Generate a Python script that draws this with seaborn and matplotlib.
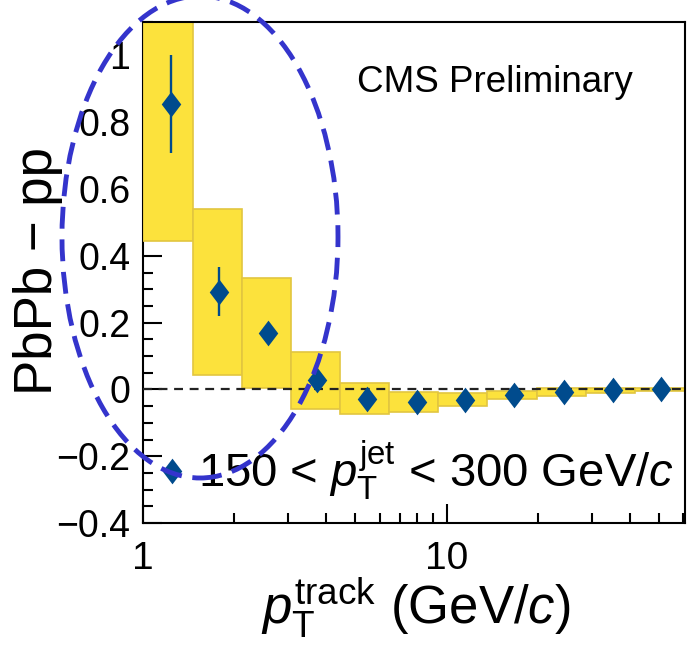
import numpy as np
import pandas as pd
import matplotlib
matplotlib.use("Agg")
import matplotlib.pyplot as plt
import matplotlib.ticker as mticker
from matplotlib.patches import Ellipse
from matplotlib.lines import Line2D
import seaborn as sns

# Track-pT bins (GeV/c) and PbPb - pp differences
bin_edges = [1.0, 1.46, 2.12, 3.08, 4.45, 6.44, 9.33, 13.5, 19.8, 28.6, 41.5, 60.7]
track_pt = [1.236, 1.78, 2.58, 3.75, 5.47, 7.95, 11.46, 16.65, 24.3, 35.2, 50.8]
diff = [0.855, 0.292, 0.170, 0.027, -0.028, -0.037, -0.031, -0.017, -0.008, -0.003, 0.0]
stat_err = [0.147, 0.073, 0.020, 0.015, 0.012, 0.010, 0.008, 0.005, 0.004, 0.003, 0.002]
sys_err = [0.411, 0.248, 0.165, 0.085, 0.047, 0.030, 0.019, 0.013, 0.011, 0.008, 0.004]

ytick_vals = [-0.4, -0.2, 0.0, 0.2, 0.4, 0.6, 0.8, 1.0]
ytick_labels = ["\u22120.4", "\u22120.2", "0", "0.2", "0.4", "0.6", "0.8", "1"]
xtick_vals = [1, 10]
xtick_labels = ["1", "10"]

legend_label = r"150 < $p_{\mathrm{T}}^{\mathrm{jet}}$ < 300 GeV/$c$"

sns.set_theme(style="white")
plt.rcParams["font.family"] = ["Liberation Sans", "DejaVu Sans"]
plt.rcParams["mathtext.fontset"] = "custom"
plt.rcParams["mathtext.rm"] = "Liberation Sans"
plt.rcParams["mathtext.it"] = "Liberation Sans:italic"
plt.rcParams["mathtext.bf"] = "Liberation Sans:bold"
for key in ["text.color", "axes.labelcolor", "xtick.color", "ytick.color"]:
    plt.rcParams[key] = "black"

marker_color = "#004B8D"
box_face = "#FCE23C"
box_edge = "#E2C640"

df = pd.DataFrame({"pt": track_pt, "diff": diff, "stat": stat_err, "sys": sys_err})

fig = plt.figure(figsize=(6.88, 6.46), dpi=100)
fig.patch.set_facecolor("white")
ax = fig.add_axes([143 / 688, 1 - 523 / 646, 542 / 688, 501 / 646])
ax.set_facecolor("white")
ax.set_xscale("log")
ax.set_axisbelow(True)

# systematic uncertainty boxes
edges = np.array(bin_edges)
lo = df["diff"] - df["sys"]
ax.bar(edges[:-1], 2 * df["sys"], width=np.diff(edges), bottom=lo, align="edge",
       color=box_face, edgecolor=box_edge, linewidth=1.2, zorder=3)

ax.axhline(0, color="#222222", lw=1.6, ls=(0, (4, 3)), zorder=3.5)

# statistical error bars
ax.errorbar(df["pt"], df["diff"], yerr=df["stat"], fmt="none",
            ecolor=marker_color, elinewidth=1.7, capsize=0, zorder=4)

diamond = [(0, 1), (0.76, 0), (0, -1), (-0.76, 0), (0, 1)]
sns.scatterplot(data=df, x="pt", y="diff", marker=diamond, s=18.5 ** 2,
                color=marker_color, edgecolor=marker_color, linewidth=0,
                zorder=5, ax=ax, legend=False)

ax.set_xlim(1, 60.7)
ax.set_ylim(-0.4, 1.1)

ax.set_yticks(ytick_vals)
ax.set_yticklabels(ytick_labels)
ax.yaxis.set_minor_locator(mticker.MultipleLocator(0.05))
ax.set_xticks(xtick_vals)
ax.set_xticklabels(xtick_labels)
ax.xaxis.set_minor_locator(mticker.LogLocator(base=10, subs=np.arange(2, 10)))
ax.xaxis.set_minor_formatter(mticker.NullFormatter())

ax.tick_params(axis="both", which="both", bottom=True, left=True,
               top=False, right=False, direction="in", color="black",
               labelcolor="black")
ax.tick_params(axis="both", which="major", length=14, width=1.5)
ax.tick_params(axis="both", which="minor", length=7.5, width=1.5)
ax.tick_params(axis="y", which="major", labelsize=27, pad=9)
ax.tick_params(axis="x", which="major", labelsize=28, pad=13)

for name, sp in ax.spines.items():
    sp.set_visible(True)
    sp.set_color("black")
    sp.set_linewidth(1.5)
    sp.set_zorder(6 if name != "left" else 2.5)

ax.set_ylabel("PbPb \u2212 pp", fontsize=38, va="baseline", ha="center",
              color="black")
ax.yaxis.set_label_coords(-0.168, 0.502)
ax.set_xlabel(r"$p_{\mathrm{T}}^{\mathrm{track}}$ (GeV/$c$)", fontsize=38,
              va="baseline", ha="center", color="black")
ax.xaxis.set_label_coords(0.503, -0.2016)

ax.text((357 - 143) / 542, (523 - 92) / 501, "CMS Preliminary", fontsize=26.5,
        color="black", transform=ax.transAxes, ha="left", va="baseline")

handle = Line2D([], [], ls="none", marker=diamond, markersize=18.5,
                color=marker_color, markeredgewidth=0)
leg = ax.legend([handle], [legend_label], loc="center left",
                bbox_to_anchor=((160 - 143) / 542, (523 - 470) / 501),
                frameon=False, fontsize=34, handlelength=0.5,
                handletextpad=0.3, borderpad=0, borderaxespad=0)
for t in leg.get_texts():
    t.set_color("black")

# dashed highlight around the low-pT region
fig.add_artist(Ellipse((200 / 688, 1 - 237 / 646), 276 / 688, 482 / 646,
                       transform=fig.transFigure, fill=False,
                       edgecolor="#3434CC", lw=3.5, ls=(0, (4.5, 2.2)),
                       zorder=10))

fig.savefig("out.png", dpi=100, facecolor="white")
